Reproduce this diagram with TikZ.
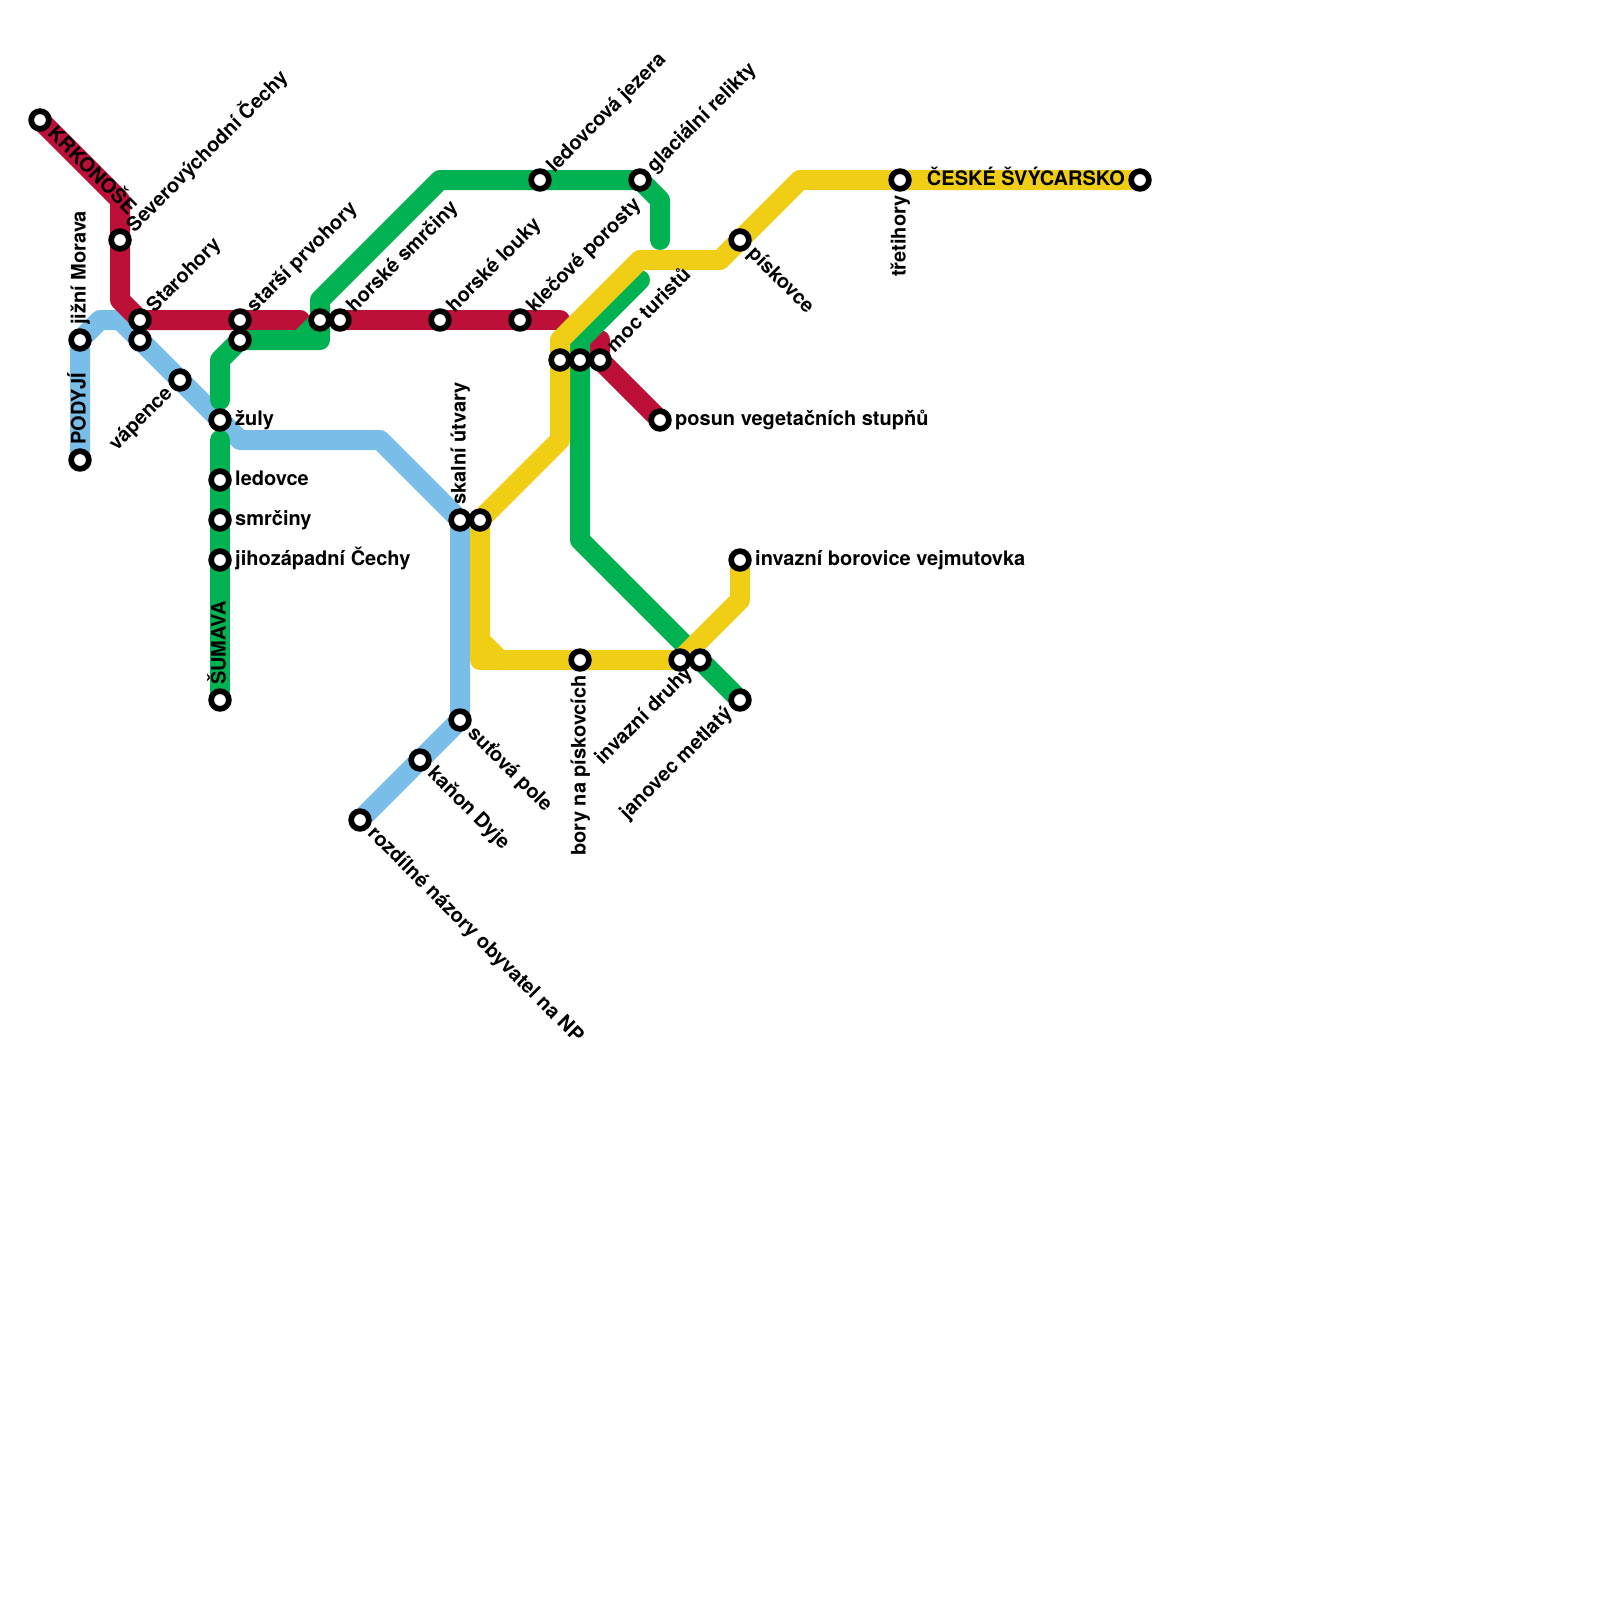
\documentclass[tikz,border=0pt]{standalone}
\usepackage{fontspec}
\setmainfont{TeX Gyre Heros}
\usepackage{xcolor}
\usetikzlibrary{backgrounds}
\definecolor{linered}{HTML}{BD1038}
\definecolor{linegreen}{HTML}{00B251}
\definecolor{lineyellow}{HTML}{F0CE15}
\definecolor{lineblue}{HTML}{79BDE9}
\begin{document}
\begin{tikzpicture}[x=1pt,y=-1pt,
stat/.style={circle,draw=black,fill=white,line width=5.7pt,minimum size=17.7pt,inner sep=0pt},
metro/.style={line width=20pt,line join=round,line cap=round},
lbl/.style={font=\bfseries\fontsize{20}{20}\selectfont,text height=14pt,text depth=3pt,inner xsep=15pt,inner ysep=0pt,anchor=west},
lblr/.style={lbl,anchor=east},
up/.style={lbl,rotate=45},
down/.style={lbl,rotate=-45},
upr/.style={lblr,rotate=45},
vert/.style={lbl,rotate=90},
vertr/.style={lblr,rotate=90}]
\useasboundingbox (0,0) rectangle (1600,1600);
% stations
\node[stat] (krk) at (40,120) {};
\node[stat] (sev) at (120,240) {};
\node[stat] (star) at (140,320) {};
\node[stat] (stardva) at (140,340) {};
\node[stat] (prvo) at (240,320) {};
\node[stat] (prvodva) at (240,340) {};
\node[stat] (smrkb) at (320,320) {};
\node[stat] (smrk) at (340,320) {};
\node[stat] (louky) at (440,320) {};
\node[stat] (klec) at (520,320) {};
\node[stat] (zlutb) at (560,360) {};
\node[stat] (zelb) at (580,360) {};
\node[stat] (moc) at (600,360) {};
\node[stat] (posun) at (660,420) {};
\node[stat] (morava) at (80,340) {};
\node[stat] (podyji) at (80,460) {};
\node[stat] (vap) at (180,380) {};
\node[stat] (zuly) at (220,420) {};
\node[stat] (led) at (220,480) {};
\node[stat] (smrc) at (220,520) {};
\node[stat] (jiho) at (220,560) {};
\node[stat] (sum) at (220,700) {};
\node[stat] (skal) at (460,520) {};
\node[stat] (skaldva) at (480,520) {};
\node[stat] (sut) at (460,720) {};
\node[stat] (kan) at (420,760) {};
\node[stat] (rozd) at (360,820) {};
\node[stat] (jez) at (540,180) {};
\node[stat] (glac) at (640,180) {};
\node[stat] (pisk) at (740,240) {};
\node[stat] (tret) at (900,180) {};
\node[stat] (svyc) at (1140,180) {};
\node[stat] (bory) at (580,660) {};
\node[stat] (druhy) at (680,660) {};
\node[stat] (druhydva) at (700,660) {};
\node[stat] (jan) at (740,700) {};
\node[stat] (borov) at (740,560) {};
% bends
\coordinate (r1) at (120,200);
\coordinate (r2) at (120,300);
\coordinate (r3) at (300,320);
\coordinate (r4) at (560,320);
\coordinate (r5) at (600,340);
\coordinate (g1) at (220,400);
\coordinate (g2) at (220,360);
\coordinate (g3) at (320,340);
\coordinate (g4) at (320,300);
\coordinate (g5) at (440,180);
\coordinate (g6) at (660,200);
\coordinate (g7) at (660,240);
\coordinate (g8) at (300,340);
\coordinate (g9) at (220,440);
\coordinate (g10) at (640,280);
\coordinate (g11) at (580,340);
\coordinate (g12) at (580,540);
\coordinate (y1) at (800,180);
\coordinate (y2) at (720,260);
\coordinate (y3) at (640,260);
\coordinate (y4) at (560,340);
\coordinate (y5) at (560,440);
\coordinate (y6) at (480,640);
\coordinate (y7) at (480,660);
\coordinate (y8) at (500,660);
\coordinate (y9) at (740,600);
\coordinate (b1) at (100,320);
\coordinate (b2) at (120,320);
\coordinate (b3) at (240,440);
\coordinate (b4) at (380,440);
% lines
\begin{scope}[on background layer]
\draw[metro,lineblue] (podyji.center)--(morava.center)--(b1)--(b2)--(stardva.center)--(vap.center)--(zuly.center)--(b3)--(b4)--(skal.center)--(sut.center)--(kan.center)--(rozd.center);
\draw[metro,linered] (krk.center)--(r1)--(sev.center)--(r2)--(star.center)--(prvo.center)--(r3);
\draw[metro,linered] (smrk.center)--(louky.center)--(klec.center)--(r4);
\draw[metro,linered] (r5)--(moc.center)--(posun.center);
\draw[metro,linegreen] (g1)--(g2)--(prvodva.center)--(g3)--(g4)--(g5)--(jez.center)--(glac.center)--(g6)--(g7);
\draw[metro,linegreen,line cap=butt] (g8)--(smrkb.center);
\draw[metro,linegreen] (g9)--(led.center)--(smrc.center)--(jiho.center)--(sum.center);
\draw[metro,linegreen] (g10)--(g11)--(zelb.center)--(g12)--(druhydva.center)--(jan.center);
\draw[metro,lineyellow] (svyc.center)--(tret.center)--(y1)--(pisk.center)--(y2)--(y3)--(y4)--(zlutb.center)--(y5)--(skaldva.center)--(y6)--(y7)--(y8)--(y6);
\draw[metro,lineyellow] (y8)--(bory.center)--(druhy.center)--(y9)--(borov.center);
\end{scope}
% labels
\node[down] (tkrk) at (krk) {KRKONOŠE};
\node[up] (tsev) at (sev) {Severovýchodní Čechy};
\node[up] (tstar) at (star) {Starohory};
\node[up] (tprvo) at (prvo) {starší prvohory};
\node[up] (tsmrk) at (smrk) {horské smrčiny};
\node[up] (tlouky) at (louky) {horské louky};
\node[up] (tklec) at (klec) {klečové porosty};
\node[up] (tmoc) at (moc) {moc turistů};
\node[up] (tjez) at (jez) {ledovcová jezera};
\node[up] (tglac) at (glac) {glaciální relikty};
\node[lbl] (tposun) at (posun) {posun vegetačních stupňů};
\node[vert] (tmorava) at (morava) {jižní Morava};
\node[vert] (tpodyji) at (podyji) {PODYJÍ};
\node[upr] (tvap) at (vap) {vápence};
\node[lbl] (tzuly) at (zuly) {žuly};
\node[lbl] (tled) at (led) {ledovce};
\node[lbl] (tsmrc) at (smrc) {smrčiny};
\node[lbl] (tjiho) at (jiho) {jihozápadní Čechy};
\node[vert] (tsum) at (sum) {ŠUMAVA};
\node[vert] (tskal) at (skal) {skalní útvary};
\node[down] (tsut) at (sut) {suťová pole};
\node[down] (tkan) at (kan) {kaňon Dyje};
\node[down] (trozd) at (rozd) {rozdílné názory obyvatel na NP};
\node[down] (tpisk) at (pisk) {pískovce};
\node[vertr] (ttret) at (tret) {třetihory};
\node[lblr] (tsvyc) at (svyc) {ČESKÉ ŠVÝCARSKO};
\node[vertr] (tbory) at (bory) {bory na pískovcích};
\node[upr] (tdruhy) at (druhydva) {invazní druhy};
\node[upr] (tjan) at (jan) {janovec metlatý};
\node[lbl] (tborov) at (borov) {invazní borovice vejmutovka};
\end{tikzpicture}
\end{document}
